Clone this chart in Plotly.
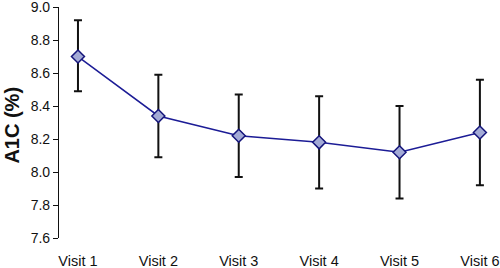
import plotly.graph_objects as go

visits = ["Visit 1", "Visit 2", "Visit 3", "Visit 4", "Visit 5", "Visit 6"]
a1c = [8.70, 8.34, 8.22, 8.18, 8.12, 8.24]
err_plus = [0.22, 0.25, 0.25, 0.28, 0.28, 0.32]
err_minus = [0.21, 0.25, 0.25, 0.28, 0.28, 0.32]
y_ticks = [7.6, 7.8, 8.0, 8.2, 8.4, 8.6, 8.8, 9.0]

fig = go.Figure()
fig.add_trace(go.Scatter(
    x=visits, y=a1c, mode="lines+markers",
    line=dict(color="#1c1c96", width=1.5),
    marker=dict(symbol="diamond", size=10, color="#a3aad6",
                line=dict(color="#14147a", width=1.5)),
    error_y=dict(type="data", symmetric=False, array=err_plus, arrayminus=err_minus,
                 color="#111111", thickness=2, width=4),
))
fig.update_layout(
    width=500, height=268,
    margin=dict(l=59, r=0, t=7, b=30, autoexpand=False),
    paper_bgcolor="white", plot_bgcolor="white",
    showlegend=False,
    font=dict(family="Liberation Sans, Arial, sans-serif", size=14, color="#111111"),
    xaxis=dict(type="category", range=[-0.236, 5.25], showline=False, showgrid=False,
               zeroline=False, ticks="outside", ticklen=10, tickcolor="rgba(0,0,0,0)",
               automargin=False, tickfont=dict(size=14.5), ticklabeloverflow="allow"),
    yaxis=dict(range=[7.6, 9.0005], tickvals=y_ticks, ticktext=[f"{v:.1f}" for v in y_ticks],
               showline=True, linecolor="#111111", linewidth=1.2,
               ticks="outside", ticklen=5, tickcolor="#111111", showgrid=False,
               zeroline=False, tickfont=dict(size=14), automargin=False,
               ticklabeloverflow="allow"),
    annotations=[dict(text="<b>A1C (%)</b>", xref="paper", yref="paper",
                      x=-0.107, y=0.49, xanchor="center", yanchor="middle",
                      textangle=-90, showarrow=False, font=dict(size=20))],
)
fig.write_html("out.html", config={"displayModeBar": False},
               post_script="document.body.style.margin='0';document.body.style.overflow='hidden';")
